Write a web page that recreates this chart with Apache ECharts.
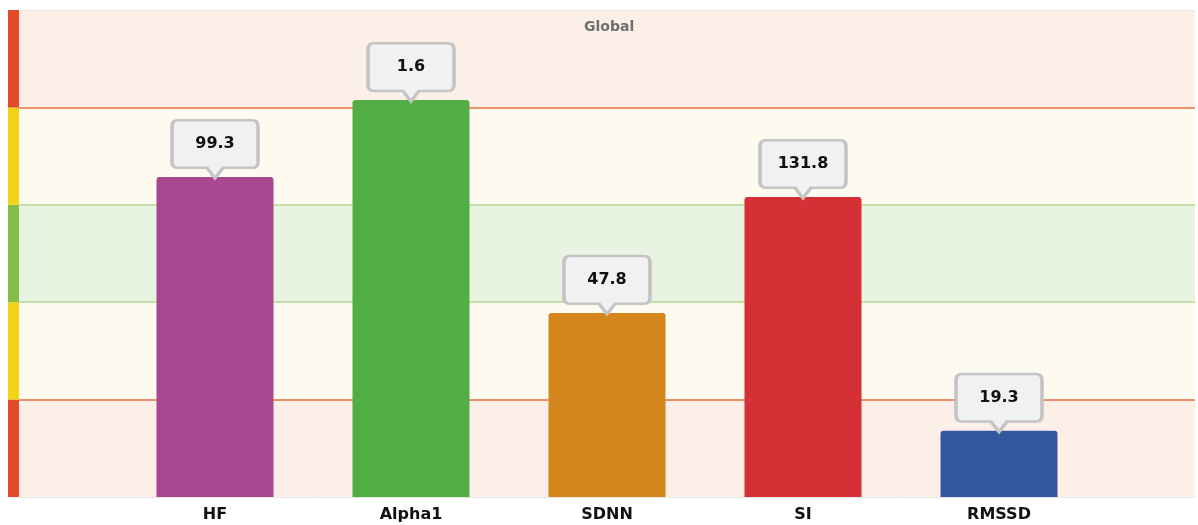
<!DOCTYPE html>
<html>
<head>
<meta charset="utf-8">
<script src="https://cdn.jsdelivr.net/npm/echarts@6/dist/echarts.min.js"></script>
<style>
  html, body { margin: 0; padding: 0; background: #fff; overflow: hidden; }
  #main { width: 1198px; height: 525px; }
</style>
</head>
<body>
<div id="main"></div>
<script>
const main = document.getElementById('main')
let myChart = echarts.init(main)

// data
const categories = ['HF', 'Alpha1', 'SDNN', 'SI', 'RMSSD']
const rawValues = [99.3, 1.6, 47.8, 131.8, 19.3]     // shown in the callouts
const scores = [65.7, 81.5, 37.8, 61.6, 13.6]         // bar height on 0-100 zone scale
const barColors = ['#a8468f', '#52ae44', '#d4861d', '#d43036', '#3458a0']

// zone scale: 5 bands of 20 (red / yellow / green / yellow / red)
const zoneMin = 0
const zoneMax = 100
const zoneStep = 20
const zoneEdges = [20, 40, 60, 80]
const zoneFill = ['#fcefe8', '#fdfaef', '#e9f3e1', '#fdfaef', '#fcefe8']
const zoneStrip = ['#e44a26', '#f2d417', '#84bd47', '#f2d417', '#e44a26']
const edgeColors = ['#e4703f', '#b3da94', '#b3da94', '#e4703f']

// blank slot each side so bars sit on ticks
const xData = [''].concat(categories, [''])
const barData = ['-'].concat(categories.map((c, i) => ({
  value: scores[i],
  itemStyle: { color: barColors[i] }
})), ['-'])

// callout box with a pointer at the bottom
const callout = 'path://M6 0H80Q86 0 86 6V40Q86 46 80 46H51L43 56L35 46H6Q0 46 0 40V6Q0 0 6 0Z'
const font = 'DejaVu Sans'

myChart.setOption({
  animation: false,
  title: {
    text: 'Global',
    left: 579,
    top: 15,
    textStyle: { fontFamily: font, fontSize: 14, fontWeight: 'bold', color: '#6e6e6e' }
  },
  grid: [
    { left: 19, right: 0, top: 10, bottom: 28 },
    { left: 8, width: 11, top: 10, bottom: 28 }
  ],
  xAxis: [
    {
      type: 'category',
      data: xData,
      boundaryGap: false,
      gridIndex: 0,
      axisTick: { show: false },
      axisLine: { lineStyle: { color: '#e6e6e6', width: 1 } },
      axisLabel: {
        margin: 10,
        fontFamily: font,
        fontSize: 16,
        fontWeight: 'bold',
        color: '#111'
      }
    },
    { type: 'category', data: [''], gridIndex: 1, show: false }
  ],
  yAxis: [
    {
      type: 'value',
      gridIndex: 0,
      min: zoneMin,
      max: zoneMax,
      interval: zoneStep,
      axisLabel: { show: false },
      axisLine: { show: false },
      axisTick: { show: false },
      splitLine: { show: false },
      splitArea: { show: true, areaStyle: { color: zoneFill } }
    },
    {
      type: 'value',
      gridIndex: 1,
      min: zoneMin,
      max: zoneMax,
      interval: zoneStep,
      axisLabel: { show: false },
      axisLine: { show: false },
      axisTick: { show: false },
      splitLine: { show: false },
      splitArea: { show: true, areaStyle: { color: zoneStrip } }
    }
  ],
  series: [
    {
      type: 'bar',
      xAxisIndex: 0,
      yAxisIndex: 0,
      data: barData,
      barWidth: 117,
      z: 3,
      itemStyle: { borderRadius: [3, 3, 0, 0] },
      markLine: {
        silent: true,
        symbol: 'none',
        label: { show: false },
        z: 1,
        data: zoneEdges.map((v, i) => ({
          yAxis: v,
          lineStyle: { color: edgeColors[i], width: 1.5, type: 'solid' }
        })).concat([{ yAxis: zoneMax, lineStyle: { color: '#ece6e3', width: 1, type: 'solid' } }])
      },
      markPoint: {
        symbol: callout,
        symbolSize: [86, 58],
        symbolOffset: [0, '-48%'],
        symbolKeepAspect: false,
        itemStyle: { color: '#f1f1f1', borderColor: '#c4c4c4', borderWidth: 3 },
        label: {
          show: true,
          position: 'inside',
          offset: [0, -5],
          formatter: '{c}',
          fontFamily: font,
          fontSize: 16,
          fontWeight: 'bold',
          color: '#111'
        },
        data: categories.map((c, i) => ({ coord: [c, scores[i]], value: rawValues[i] }))
      }
    }
  ]
})
</script>
</body>
</html>
